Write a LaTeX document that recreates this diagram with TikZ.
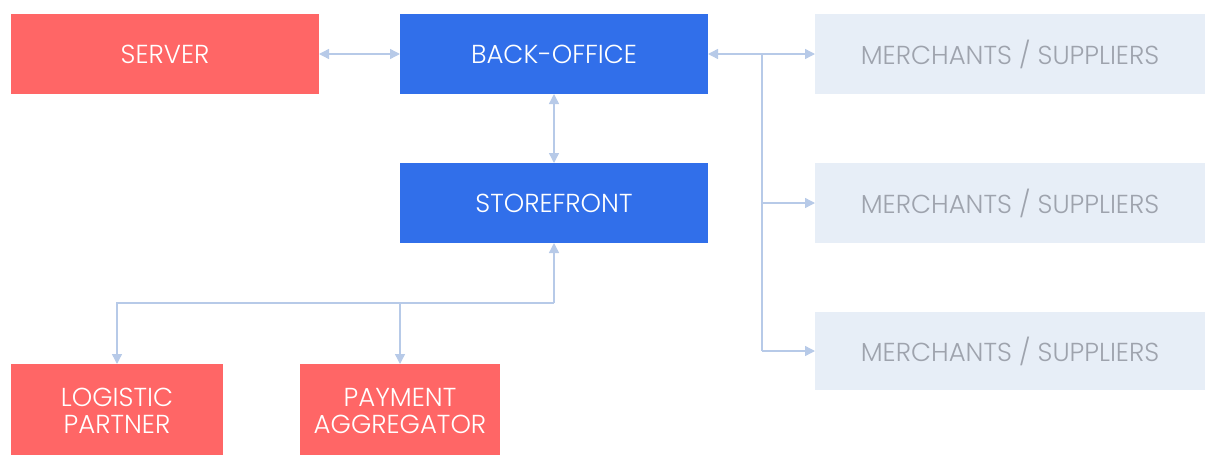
\documentclass[tikz,border=0pt]{standalone}
\usepackage{fontspec}
\setmainfont{Poppins}[UprightFont={* Light}]
\usetikzlibrary{arrows.meta}
\definecolor{redbox}{HTML}{FF6666}
\definecolor{bluebox}{HTML}{316FEA}
\definecolor{greybox}{HTML}{E7EEF7}
\definecolor{greytext}{HTML}{9EA3AD}
\definecolor{linkc}{HTML}{B7CAE8}
\tikzset{
  box/.style={anchor=north west, inner sep=0pt, outer sep=0pt, align=center, font=\fontsize{26}{27}\selectfont},
  redb/.style={box, fill=redbox, text=white},
  blueb/.style={box, fill=bluebox, text=white},
  greyb/.style={box, fill=greybox, text=greytext},
  link/.style={draw=linkc, line width=1.4pt, arrows={-Triangle[width=10pt,length=10pt]}},
  blink/.style={draw=linkc, line width=1.4pt, arrows={Triangle[width=10pt,length=10pt]-Triangle[width=10pt,length=10pt]}},
  plain/.style={draw=linkc, line width=1.4pt}
}
\begin{document}
\begin{tikzpicture}[x=1pt,y=-1pt]
\useasboundingbox (0,0) rectangle (1205,455);
\node[redb, minimum width=308pt, minimum height=80pt] (server) at (11,14) {SERVER};
\node[blueb, minimum width=308pt, minimum height=80pt] (back) at (400,14) {BACK-OFFICE};
\node[blueb, minimum width=308pt, minimum height=80pt] (store) at (400,163) {STOREFRONT};
\node[greyb, minimum width=390pt, minimum height=80pt] (m1) at (815,14) {MERCHANTS / SUPPLIERS};
\node[greyb, minimum width=390pt, minimum height=80pt] (m2) at (815,163) {MERCHANTS / SUPPLIERS};
\node[greyb, minimum width=390pt, minimum height=78pt] (m3) at (815,312) {MERCHANTS / SUPPLIERS};
\node[redb, minimum width=212pt, minimum height=94pt] (log) at (11,364) {LOGISTIC\\PARTNER};
\node[redb, minimum width=200pt, minimum height=94pt] (pay) at (300,364) {PAYMENT\\AGGREGATOR};
\coordinate (j1) at (762,54);
\coordinate (j3) at (762,351);
\coordinate (s1) at (554,303);
\coordinate (l1) at (117,303);
\coordinate (p1) at (400,303);
\draw[blink] (server.east) -- (back.west);
\draw[blink] (back.east) -- (m1.west);
\draw[blink] (back.south) -- (store.north);
\draw[plain] (j1) -- (j3);
\draw[link] (m3.west -| j1) -- (m3.west);
\draw[link] (m2.west -| j1) -- (m2.west);
\draw[link] (s1) -- (store.south);
\draw[link] (s1) -- (l1) -- (log.north -| l1);
\draw[link] (p1) -- (pay.north -| p1);
\end{tikzpicture}
\end{document}
